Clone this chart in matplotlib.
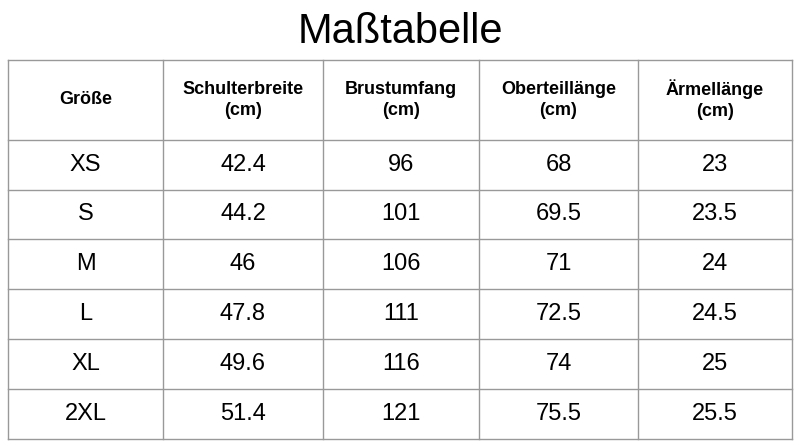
import matplotlib

matplotlib.use("Agg")
import matplotlib.pyplot as plt

plt.rcParams.update({
    "font.family": "sans-serif",
    "font.sans-serif": ["Liberation Sans", "DejaVu Sans"],
})

title = "Maßtabelle"
headers = ["Größe", "Schulterbreite\n(cm)", "Brustumfang\n(cm)", "Oberteillänge\n(cm)", "Ärmellänge\n(cm)"]
sizes = ["XS", "S", "M", "L", "XL", "2XL"]
schulter = ["42.4", "44.2", "46", "47.8", "49.6", "51.4"]
brust = ["96", "101", "106", "111", "116", "121"]
laenge = ["68", "69.5", "71", "72.5", "74", "75.5"]
aermel = ["23", "23.5", "24", "24.5", "25", "25.5"]

# layout in pixels
col_x = [8, 163, 323, 479, 638, 792]
row_y = [60, 140, 190, 239, 289, 339, 389, 439]

fig = plt.figure(figsize=(8, 4.47), dpi=100)
ax = fig.add_axes([0, 0, 1, 1])
ax.set_xlim(0, 800)
ax.set_ylim(447, 0)
ax.axis("off")

ax.text(400, 32, title, fontsize=30, ha="center", va="center")

for x in col_x:
    ax.plot([x, x], [row_y[0], row_y[-1]], color="#999999", lw=1)
for y in row_y:
    ax.plot([col_x[0], col_x[-1]], [y, y], color="#999999", lw=1)

cx = [(col_x[i] + col_x[i + 1]) / 2 for i in range(len(col_x) - 1)]
hy = (row_y[0] + row_y[1]) / 2
for x, h in zip(cx, headers):
    ax.text(x, hy, h, fontsize=13, fontweight="bold", ha="center", va="center",
            linespacing=1.3)

columns = [sizes, schulter, brust, laenge, aermel]
for r in range(len(sizes)):
    y = (row_y[r + 1] + row_y[r + 2]) / 2
    for x, col in zip(cx, columns):
        ax.text(x, y, col[r], fontsize=17, ha="center", va="center")

fig.savefig("out.png", dpi=100)
